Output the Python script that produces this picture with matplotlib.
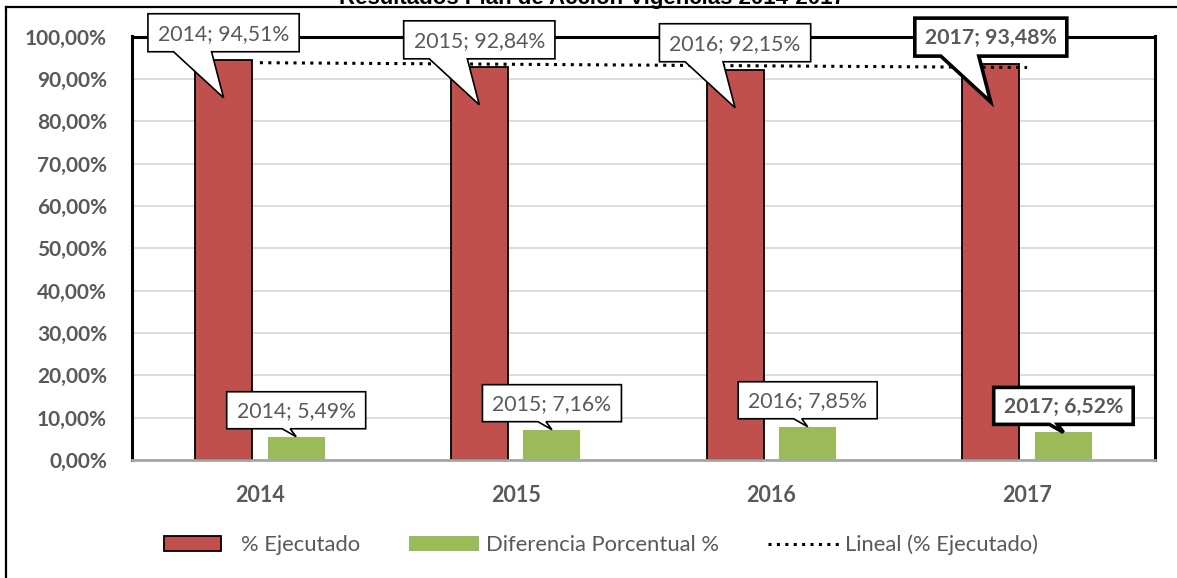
import numpy as np
import matplotlib
matplotlib.use('Agg')
import matplotlib.pyplot as plt
from matplotlib.path import Path
from matplotlib.patches import PathPatch, Rectangle
from matplotlib.lines import Line2D
from matplotlib.legend_handler import HandlerPatch
from matplotlib.transforms import IdentityTransform

# ---- data ----
years = ['2014', '2015', '2016', '2017']
ejecutado = [94.51, 92.84, 92.15, 93.48]
diferencia = [5.49, 7.16, 7.85, 6.52]
yticks = [0, 10, 20, 30, 40, 50, 60, 70, 80, 90, 100]
title = 'Resultados Plan de Acción Vigencias 2014-2017'
series_names = ['% Ejecutado', 'Diferencia Porcentual %', 'Lineal (% Ejecutado)']
bold_year = '2017'

plt.rcParams['font.family'] = ['Lato', 'DejaVu Sans']
GRAY = '#595959'
RED = '#C0504D'
GREEN = '#9BBB59'
DOTS = (0, (1, 1.75))

W, H = 1177, 578
fig = plt.figure(figsize=(W / 100, H / 100), dpi=100)
ax = fig.add_axes([132 / W, 1 - 460 / H, (1155 - 132) / W, (460 - 36.5) / H])

x = np.arange(len(years))
bw, off = 0.223, 0.142
ax.bar(x - off, ejecutado, bw, color=RED, edgecolor='black', linewidth=1.3, zorder=2)
ax.bar(x + off, diferencia, bw, color=GREEN, zorder=2)

xs = np.arange(1, len(years) + 1)
coef = np.polyfit(xs, ejecutado, 1)
trend = np.polyval(coef, xs)
ax.plot(x, trend, color='black', lw=2.2, linestyle=DOTS, zorder=3)

ax.set_xlim(-0.5, len(years) - 0.5)
ax.set_ylim(0, 100)
ax.set_yticks(yticks)
ax.set_yticklabels([f'{v:.2f}%'.replace('.', ',') for v in yticks])
ax.set_xticks(x)
ax.set_xticklabels(years)
ax.tick_params(length=0, labelcolor=GRAY)
ax.tick_params(axis='y', pad=18, labelsize=15)
ax.tick_params(axis='x', pad=18, labelsize=15.5)
for lab in ax.get_xticklabels() + ax.get_yticklabels():
    lab.set_fontweight('bold')
ax.yaxis.grid(True, color='#d9d9d9', lw=1.3)
ax.set_axisbelow(True)
for s in ['left', 'top', 'right']:
    ax.spines[s].set_linewidth(2.2)
    ax.spines[s].set_color('black')
ax.spines['bottom'].set_color('#a6a6a6')
ax.spines['bottom'].set_linewidth(2)

renderer = fig.canvas.get_renderer()


def bubble(xd, yd, text, bold, gap, box_h, base, tip_dy, padx):
    X, Y = ax.transData.transform((xd, yd))
    bottom = Y + gap
    top = bottom + box_h
    t = fig.text(X, (top + bottom) / 2 - 1, text, transform=IdentityTransform(),
                 ha='center', va='center', fontsize=15.3, color=GRAY,
                 fontweight='bold' if bold else 'normal', zorder=11)
    tw = t.get_window_extent(renderer).width
    half = tw / 2 + padx
    left, right = X - half, X + half
    verts = [(left, top), (right, top), (right, bottom), (X + base[1], bottom),
             (X, Y - tip_dy), (X + base[0], bottom), (left, bottom), (left, top)]
    codes = [Path.MOVETO] + [Path.LINETO] * 6 + [Path.CLOSEPOLY]
    p = PathPatch(Path(verts, codes), transform=IdentityTransform(),
                  facecolor='white', edgecolor='black',
                  lw=2.6 if bold else 1.2, zorder=10, clip_on=False,
                  joinstyle='miter')
    fig.add_artist(p)


for i, y in enumerate(years):
    b = (y == bold_year)
    lab = y + '; ' + f'{ejecutado[i]:.2f}%'.replace('.', ',')
    bubble(x[i] - off, ejecutado[i], lab, b, 8, 38, (-50, -12), 38, 10)
    lab2 = y + '; ' + f'{diferencia[i]:.2f}%'.replace('.', ',')
    bubble(x[i] + off, diferencia[i], lab2, b, 8, 37, (-14, -6), 0, 10)


class ShortPatch(HandlerPatch):
    def create_artists(self, legend, orig_handle, xdescent, ydescent, width,
                       height, fontsize, trans):
        w = width * 0.82
        r = Rectangle((-xdescent, -ydescent), w, height)
        self.update_prop(r, orig_handle, legend)
        r.set_transform(trans)
        return [r]


h_red = Rectangle((0, 0), 1, 1, facecolor=RED, edgecolor='black', lw=1.3)
h_green = Rectangle((0, 0), 1, 1, facecolor=GREEN, edgecolor='none')
h_line = Line2D([], [], color='black', lw=2.2, linestyle=DOTS)
fig.legend([h_red, h_green, h_line], series_names, loc='center',
           bbox_to_anchor=(601 / W, 1 - 545 / H), ncol=3, frameon=False,
           fontsize=15.8, labelcolor=GRAY, handlelength=3.2, handleheight=0.65,
           handletextpad=0.3, columnspacing=2.25,
           handler_map={h_red: ShortPatch()})

# frame and title
fig.add_artist(Line2D([5.5 / W, 5.5 / W], [0, 1 - 7 / H], color='black', lw=1.6))
fig.add_artist(Line2D([5.5 / W, 1], [1 - 7 / H, 1 - 7 / H], color='black', lw=1.6))
fig.text(592 / W, 1 - 4 / H, title, ha='center', va='baseline', fontsize=16,
         fontweight='bold', family=['Liberation Sans', 'DejaVu Sans'])

fig.savefig('out.png', dpi=100)
